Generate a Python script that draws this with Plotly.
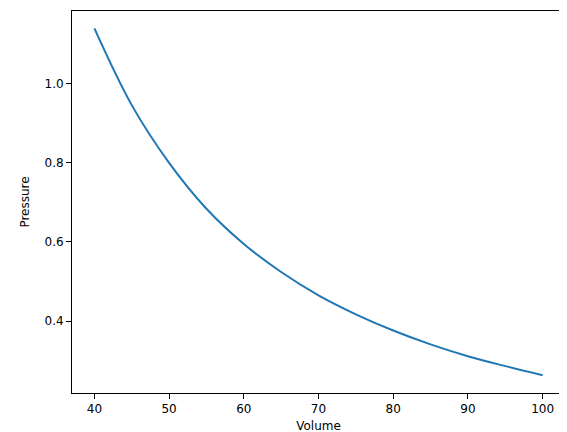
import plotly.graph_objects as go

volume = [40, 45, 50, 55, 60, 65, 70, 75, 80, 85, 90, 95, 100]
pressure = [1.14, 0.946, 0.80, 0.684, 0.595, 0.524, 0.465, 0.417, 0.376, 0.341, 0.311, 0.286, 0.263]

fig = go.Figure()
fig.add_trace(go.Scatter(x=volume, y=pressure, mode='lines',
                         line=dict(color='#1f77b4', width=2, shape='spline')))

axis_style = dict(showline=True, linecolor='black', linewidth=1, mirror=True,
                  ticks='outside', ticklen=5, tickcolor='black', showgrid=False,
                  zeroline=False, tickfont=dict(family='DejaVu Sans', size=12, color='black'))
fig.update_xaxes(range=[37, 103], tickvals=[40, 50, 60, 70, 80, 90, 100],
                 title=dict(text='Volume', font=dict(family='DejaVu Sans', size=12, color='black'), standoff=6),
                 **axis_style)
fig.update_yaxes(range=[0.218, 1.184], tickvals=[0.4, 0.6, 0.8, 1.0], tickformat='.1f',
                 title=dict(text='Pressure', font=dict(family='DejaVu Sans', size=12, color='black'), standoff=12),
                 **axis_style)
fig.update_layout(width=567, height=432, showlegend=False,
                  margin=dict(l=64, r=10, t=3, b=47, autoexpand=False),
                  plot_bgcolor='white', paper_bgcolor='white')
fig.write_html("out.html")
